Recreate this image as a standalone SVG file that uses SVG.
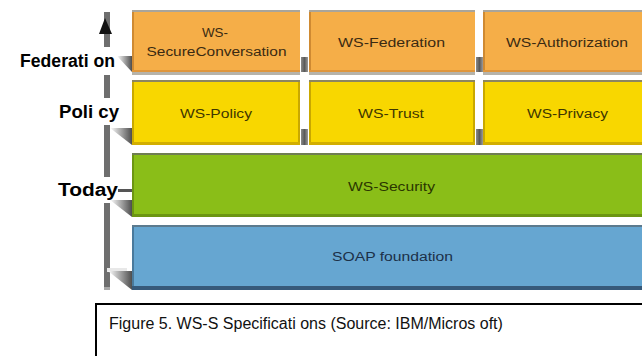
<svg xmlns="http://www.w3.org/2000/svg" width="642" height="356" viewBox="0 0 642 356">
<style>
.lbl{font-family:"Liberation Sans",Arial,sans-serif;font-weight:bold;font-size:18px;fill:#000}
.bt{font-family:"Liberation Sans",Arial,sans-serif;font-size:12.5px;text-anchor:middle}
.o{fill:#3a2a12}.y{fill:#3e3600}.g{fill:#2a3600}.b{fill:#1c3048}
.cap{font-family:"Liberation Sans",Arial,sans-serif;font-size:16px;fill:#111}
.axis{fill:#6e6e6e}
.wedge{fill:url(#wg)}
.sep{fill:url(#sg)}
</style>
<defs>
<linearGradient id="wg" x1="0" y1="0" x2="1" y2="0">
<stop offset="0" stop-color="#ffffff"/>
<stop offset="1" stop-color="#4e4e4e"/>
</linearGradient>
<linearGradient id="sg" x1="0" y1="0" x2="1" y2="0">
<stop offset="0" stop-color="#8a8a8a"/>
<stop offset="0.5" stop-color="#5a5a5a"/>
<stop offset="1" stop-color="#9a9a9a"/>
</linearGradient>
</defs>
<rect width="642" height="356" fill="#fff"/>

<g id="axis">
<rect class="axis" x="104" y="12" width="6" height="35"/>
<polygon points="105,18 112,34 99,34" fill="#111"/>
<rect class="axis" x="104" y="75" width="6" height="23"/>
<rect class="axis" x="104" y="125" width="6" height="52"/>
<rect class="axis" x="104" y="203" width="6" height="84"/>
<rect x="104" y="287" width="6" height="3" fill="#a8a8a8"/>
</g>

<g id="labels">
<text class="lbl" x="20" y="67" textLength="95" lengthAdjust="spacingAndGlyphs">Federati on</text>
<text class="lbl" x="59" y="118" textLength="60" lengthAdjust="spacingAndGlyphs">Poli cy</text>
<text class="lbl" x="58" y="196" textLength="60" lengthAdjust="spacingAndGlyphs">Today</text>
</g>

<g id="connectors">
<rect x="118" y="189" width="14" height="3" fill="#555"/>
</g>

<g id="shadows">
<polygon class="wedge" points="117,56 132,56 132,72"/>
<polygon class="wedge" points="110,128 132,128 132,145"/>
<polygon class="wedge" points="110,200 132,200 132,217"/>
<rect x="107" y="268" width="20" height="4" fill="#e8e8e8"/>
<polygon class="wedge" points="108,271 132,271 132,290"/>
<rect class="sep" x="301" y="57" width="7" height="15"/>
<rect class="sep" x="476" y="57" width="7" height="15"/>
<rect class="sep" x="301" y="129" width="7" height="16"/>
<rect class="sep" x="476" y="129" width="7" height="16"/>
</g>

<g id="ws-secureconversation">
<rect x="132" y="10" width="168" height="2" fill="#a9a59b"/>
<rect x="132" y="12" width="168" height="60" fill="#F5AE48"/>
<rect x="132" y="12" width="2" height="60" fill="#cf8a32"/>
<rect x="132" y="70" width="168" height="2" fill="#df963c"/>
<rect x="132" y="72" width="168" height="3" fill="#b6b3aa"/>
<text class="bt o" x="215" y="37" textLength="26" lengthAdjust="spacingAndGlyphs">WS-</text>
<text class="bt o" x="216.5" y="56" textLength="140" lengthAdjust="spacingAndGlyphs">SecureConversation</text>
</g>
<g id="ws-federation">
<rect x="309" y="10" width="166" height="2" fill="#a9a59b"/>
<rect x="309" y="12" width="166" height="60" fill="#F5AE48"/>
<rect x="309" y="12" width="2" height="60" fill="#cf8a32"/>
<rect x="309" y="70" width="166" height="2" fill="#df963c"/>
<rect x="309" y="72" width="166" height="3" fill="#b6b3aa"/>
<text class="bt o" x="391.5" y="47" textLength="107" lengthAdjust="spacingAndGlyphs">WS-Federation</text>
</g>
<g id="ws-authorization">
<rect x="483" y="10" width="170" height="2" fill="#a9a59b"/>
<rect x="483" y="12" width="170" height="60" fill="#F5AE48"/>
<rect x="483" y="12" width="2" height="60" fill="#cf8a32"/>
<rect x="483" y="70" width="170" height="2" fill="#df963c"/>
<rect x="483" y="72" width="170" height="3" fill="#b6b3aa"/>
<text class="bt o" x="567" y="47" textLength="122" lengthAdjust="spacingAndGlyphs">WS-Authorization</text>
</g>

<g id="ws-policy">
<rect x="132" y="80" width="168" height="2" fill="#8c8660"/>
<rect x="132" y="82" width="168" height="63" fill="#F8D700"/>
<rect x="132" y="82" width="2" height="63" fill="#c9a800"/>
<rect x="298" y="82" width="2" height="63" fill="#c9a800"/>
<rect x="132" y="142" width="168" height="3" fill="#d2ae00"/>
<text class="bt y" x="216" y="118" textLength="72" lengthAdjust="spacingAndGlyphs">WS-Policy</text>
</g>
<g id="ws-trust">
<rect x="309" y="80" width="166" height="2" fill="#8c8660"/>
<rect x="309" y="82" width="166" height="63" fill="#F8D700"/>
<rect x="309" y="82" width="2" height="63" fill="#c9a800"/>
<rect x="473" y="82" width="2" height="63" fill="#c9a800"/>
<rect x="309" y="142" width="166" height="3" fill="#d2ae00"/>
<text class="bt y" x="391" y="118" textLength="66" lengthAdjust="spacingAndGlyphs">WS-Trust</text>
</g>
<g id="ws-privacy">
<rect x="483" y="80" width="170" height="2" fill="#8c8660"/>
<rect x="483" y="82" width="170" height="63" fill="#F8D700"/>
<rect x="483" y="82" width="2" height="63" fill="#c9a800"/>
<rect x="483" y="142" width="170" height="3" fill="#d2ae00"/>
<text class="bt y" x="567.5" y="118" textLength="81" lengthAdjust="spacingAndGlyphs">WS-Privacy</text>
</g>

<g id="ws-security">
<rect x="132" y="153" width="521" height="2" fill="#6f7d52"/>
<rect x="132" y="155" width="521" height="62" fill="#8ABE18"/>
<rect x="132" y="155" width="2" height="62" fill="#6c9612"/>
<rect x="132" y="214" width="521" height="3" fill="#6c9612"/>
<text class="bt g" x="391.5" y="191" textLength="87" lengthAdjust="spacingAndGlyphs">WS-Security</text>
</g>

<g id="soap-foundation">
<rect x="132" y="225" width="521" height="2" fill="#5c7a8e"/>
<rect x="132" y="227" width="521" height="62" fill="#66A6D1"/>
<rect x="132" y="227" width="2" height="62" fill="#4a7a9c"/>
<rect x="132" y="286" width="521" height="4" fill="#36597a"/>
<text class="bt b" x="392.5" y="261" textLength="121" lengthAdjust="spacingAndGlyphs">SOAP foundation</text>
</g>

<g id="caption">
<rect x="96" y="304" width="600" height="100" fill="#fff" stroke="#000" stroke-width="2"/>
<text class="cap" x="109" y="329">Figure 5. WS-S Specificati ons (Source: IBM/Micros oft)</text>
</g>
</svg>
